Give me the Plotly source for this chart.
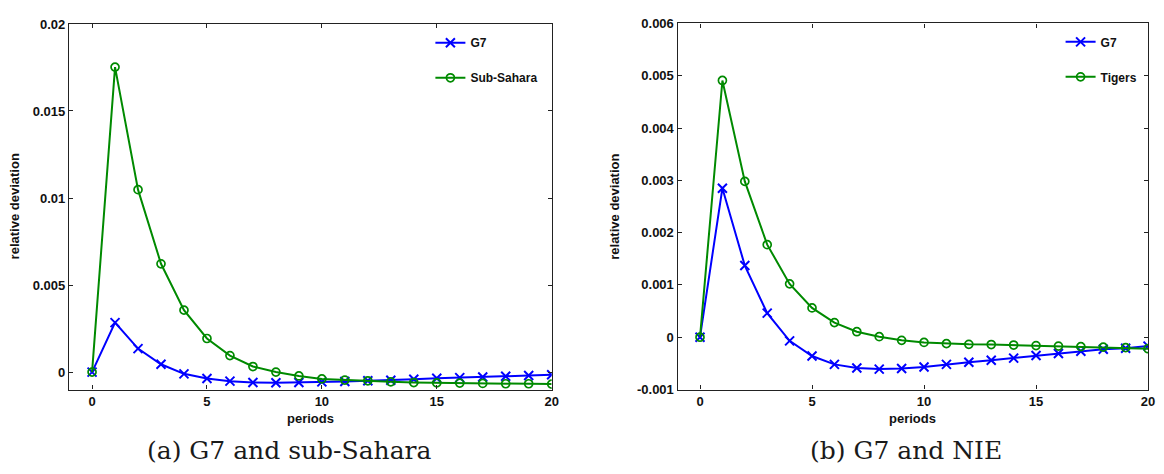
import plotly.graph_objects as go

periods = list(range(21))

# Panel (a): G7 and sub-Sahara
g7_a = [0.0, 0.00284, 0.00135, 0.00045, -0.00010, -0.00037, -0.00052, -0.00060, -0.00061,
        -0.00060, -0.00056, -0.00054, -0.00050, -0.00047, -0.00041, -0.00035, -0.00032,
        -0.00028, -0.00024, -0.00020, -0.00015]
subsahara = [0.0, 0.01752, 0.01048, 0.00622, 0.00356, 0.00193, 0.00095, 0.00032, 0.0,
             -0.00022, -0.00039, -0.00046, -0.00050, -0.00056, -0.00060, -0.00062, -0.00063,
             -0.00065, -0.00067, -0.00067, -0.00069]

# Panel (b): G7 and NIE
g7_b = [0.0, 0.00285, 0.00137, 0.00046, -0.00007, -0.00036, -0.00052, -0.00059, -0.00061,
        -0.00060, -0.00057, -0.00052, -0.00048, -0.00044, -0.00040, -0.00035, -0.00031,
        -0.00027, -0.00023, -0.00021, -0.00017]
tigers = [0.0, 0.00491, 0.00298, 0.00177, 0.00102, 0.00056, 0.00028, 0.000105, 0.00001,
          -0.00006, -0.00010, -0.000123, -0.000136, -0.00014, -0.00015, -0.00016, -0.00017,
          -0.00018, -0.00019, -0.00020, -0.00022]

x_ticks = [0, 5, 10, 15, 20]
y_ticks_a = [0, 0.005, 0.01, 0.015, 0.02]
y_labels_a = ["0", "0.005", "0.01", "0.015", "0.02"]
y_ticks_b = [-0.001, 0, 0.001, 0.002, 0.003, 0.004, 0.005, 0.006]
y_labels_b = ["-0.001", "0", "0.001", "0.002", "0.003", "0.004", "0.005", "0.006"]

caption_a = "(a) G7 and sub-Sahara"
caption_b = "(b) G7 and NIE"

BLUE = "#0000ff"
GREEN = "#008a00"
SANS = "Liberation Sans"

fig = go.Figure()


def add_series(x, y, name, color, symbol, xa, ya, legend, group):
    is_circle = "circle" in symbol
    fig.add_trace(go.Scatter(
        x=x, y=y, name=name, mode="lines+markers",
        line=dict(color=color, width=2),
        marker=dict(symbol=symbol, size=8 if is_circle else 9,
                    color=color, line=dict(color=color, width=1.7 if is_circle else 2)),
        xaxis=xa, yaxis=ya, legend=legend, legendgroup=group,
    ))


add_series(periods, g7_a, "G7", BLUE, "x-thin-open", "x", "y", "legend", "a1")
add_series(periods, subsahara, "Sub-Sahara", GREEN, "circle-open", "x", "y", "legend", "a2")
add_series(periods, g7_b, "G7", BLUE, "x-thin-open", "x2", "y2", "legend2", "b1")
add_series(periods, tigers, "Tigers", GREEN, "circle-open", "x2", "y2", "legend2", "b2")

tickfont = dict(family=SANS, size=13, color="#111", weight="bold")
axis_common = dict(
    showline=True, linecolor="#222", linewidth=1.3, mirror="ticks",
    ticks="inside", ticklen=4, tickwidth=1, tickcolor="#222",
    showgrid=False, zeroline=False, tickfont=tickfont,
)

fig.update_layout(
    autosize=True,
    margin=dict(l=0, r=0, t=0, b=0),
    paper_bgcolor="white", plot_bgcolor="white",
    xaxis=dict(domain=[69.5 / 1164, 555 / 1164], range=[-1, 20],
               tickvals=x_ticks, anchor="y", **axis_common),
    yaxis=dict(domain=[1 - 395 / 474, 1 - 17.5 / 474], range=[-0.001, 0.02],
               tickvals=y_ticks_a, ticktext=y_labels_a, anchor="x", **axis_common),
    xaxis2=dict(domain=[681.7 / 1164, 1155 / 1164], range=[-1, 20],
                tickvals=x_ticks, anchor="y2", **axis_common),
    yaxis2=dict(domain=[1 - 395 / 474, 1 - 17 / 474], range=[-0.001, 0.006],
                tickvals=y_ticks_b, ticktext=y_labels_b, anchor="x2", **axis_common),
    legend=dict(x=433 / 1164, y=1 - 22 / 474, xanchor="left", yanchor="top",
                bgcolor="rgba(0,0,0,0)", traceorder="grouped", tracegroupgap=16,
                font=dict(family=SANS, size=12, color="#111", weight="bold")),
    legend2=dict(x=1067 / 1164, y=1 - 21 / 474, xanchor="left", yanchor="top",
                 bgcolor="rgba(0,0,0,0)", traceorder="grouped", tracegroupgap=16,
                 font=dict(family=SANS, size=12, color="#111", weight="bold")),
)

title_font = dict(family=SANS, size=13, color="#111", weight="bold")
serif = dict(family="DejaVu Serif", size=25, color="#1a1a1a")

annotations = [
    dict(text="relative deviation", x=15 / 1164, y=1 - 206 / 474, textangle=-90,
         font=title_font),
    dict(text="periods", x=312 / 1164, y=1 - 425 / 474, font=title_font),
    dict(text="relative deviation", x=618 / 1164, y=1 - 206 / 474, textangle=-90,
         font=title_font),
    dict(text="periods", x=918 / 1164, y=1 - 425 / 474, font=title_font),
    dict(text=caption_a, x=291 / 1164, y=1 - 458 / 474, font=serif),
    dict(text=caption_b, x=911 / 1164, y=1 - 458 / 474, font=serif),
]
for a in annotations:
    a.update(xref="paper", yref="paper", showarrow=False, xanchor="center", yanchor="middle")
fig.update_layout(annotations=annotations)

post = """
var s = document.createElement('style');
s.textContent = 'html,body{margin:0;padding:0;overflow:hidden;width:100vw;height:100vh;}'
  + 'body>div{margin:0;padding:0;}';
document.head.appendChild(s);
var gd = document.getElementsByClassName('plotly-graph-div')[0];
gd.style.position = 'absolute'; gd.style.left = '0'; gd.style.top = '0';
gd.style.width = '100vw'; gd.style.height = '100vh';
Plotly.Plots.resize(gd);
"""

fig.write_html(
    "out.html",
    config={"displayModeBar": False, "responsive": True},
    default_width="100vw",
    default_height="100vh",
    post_script=post,
)
